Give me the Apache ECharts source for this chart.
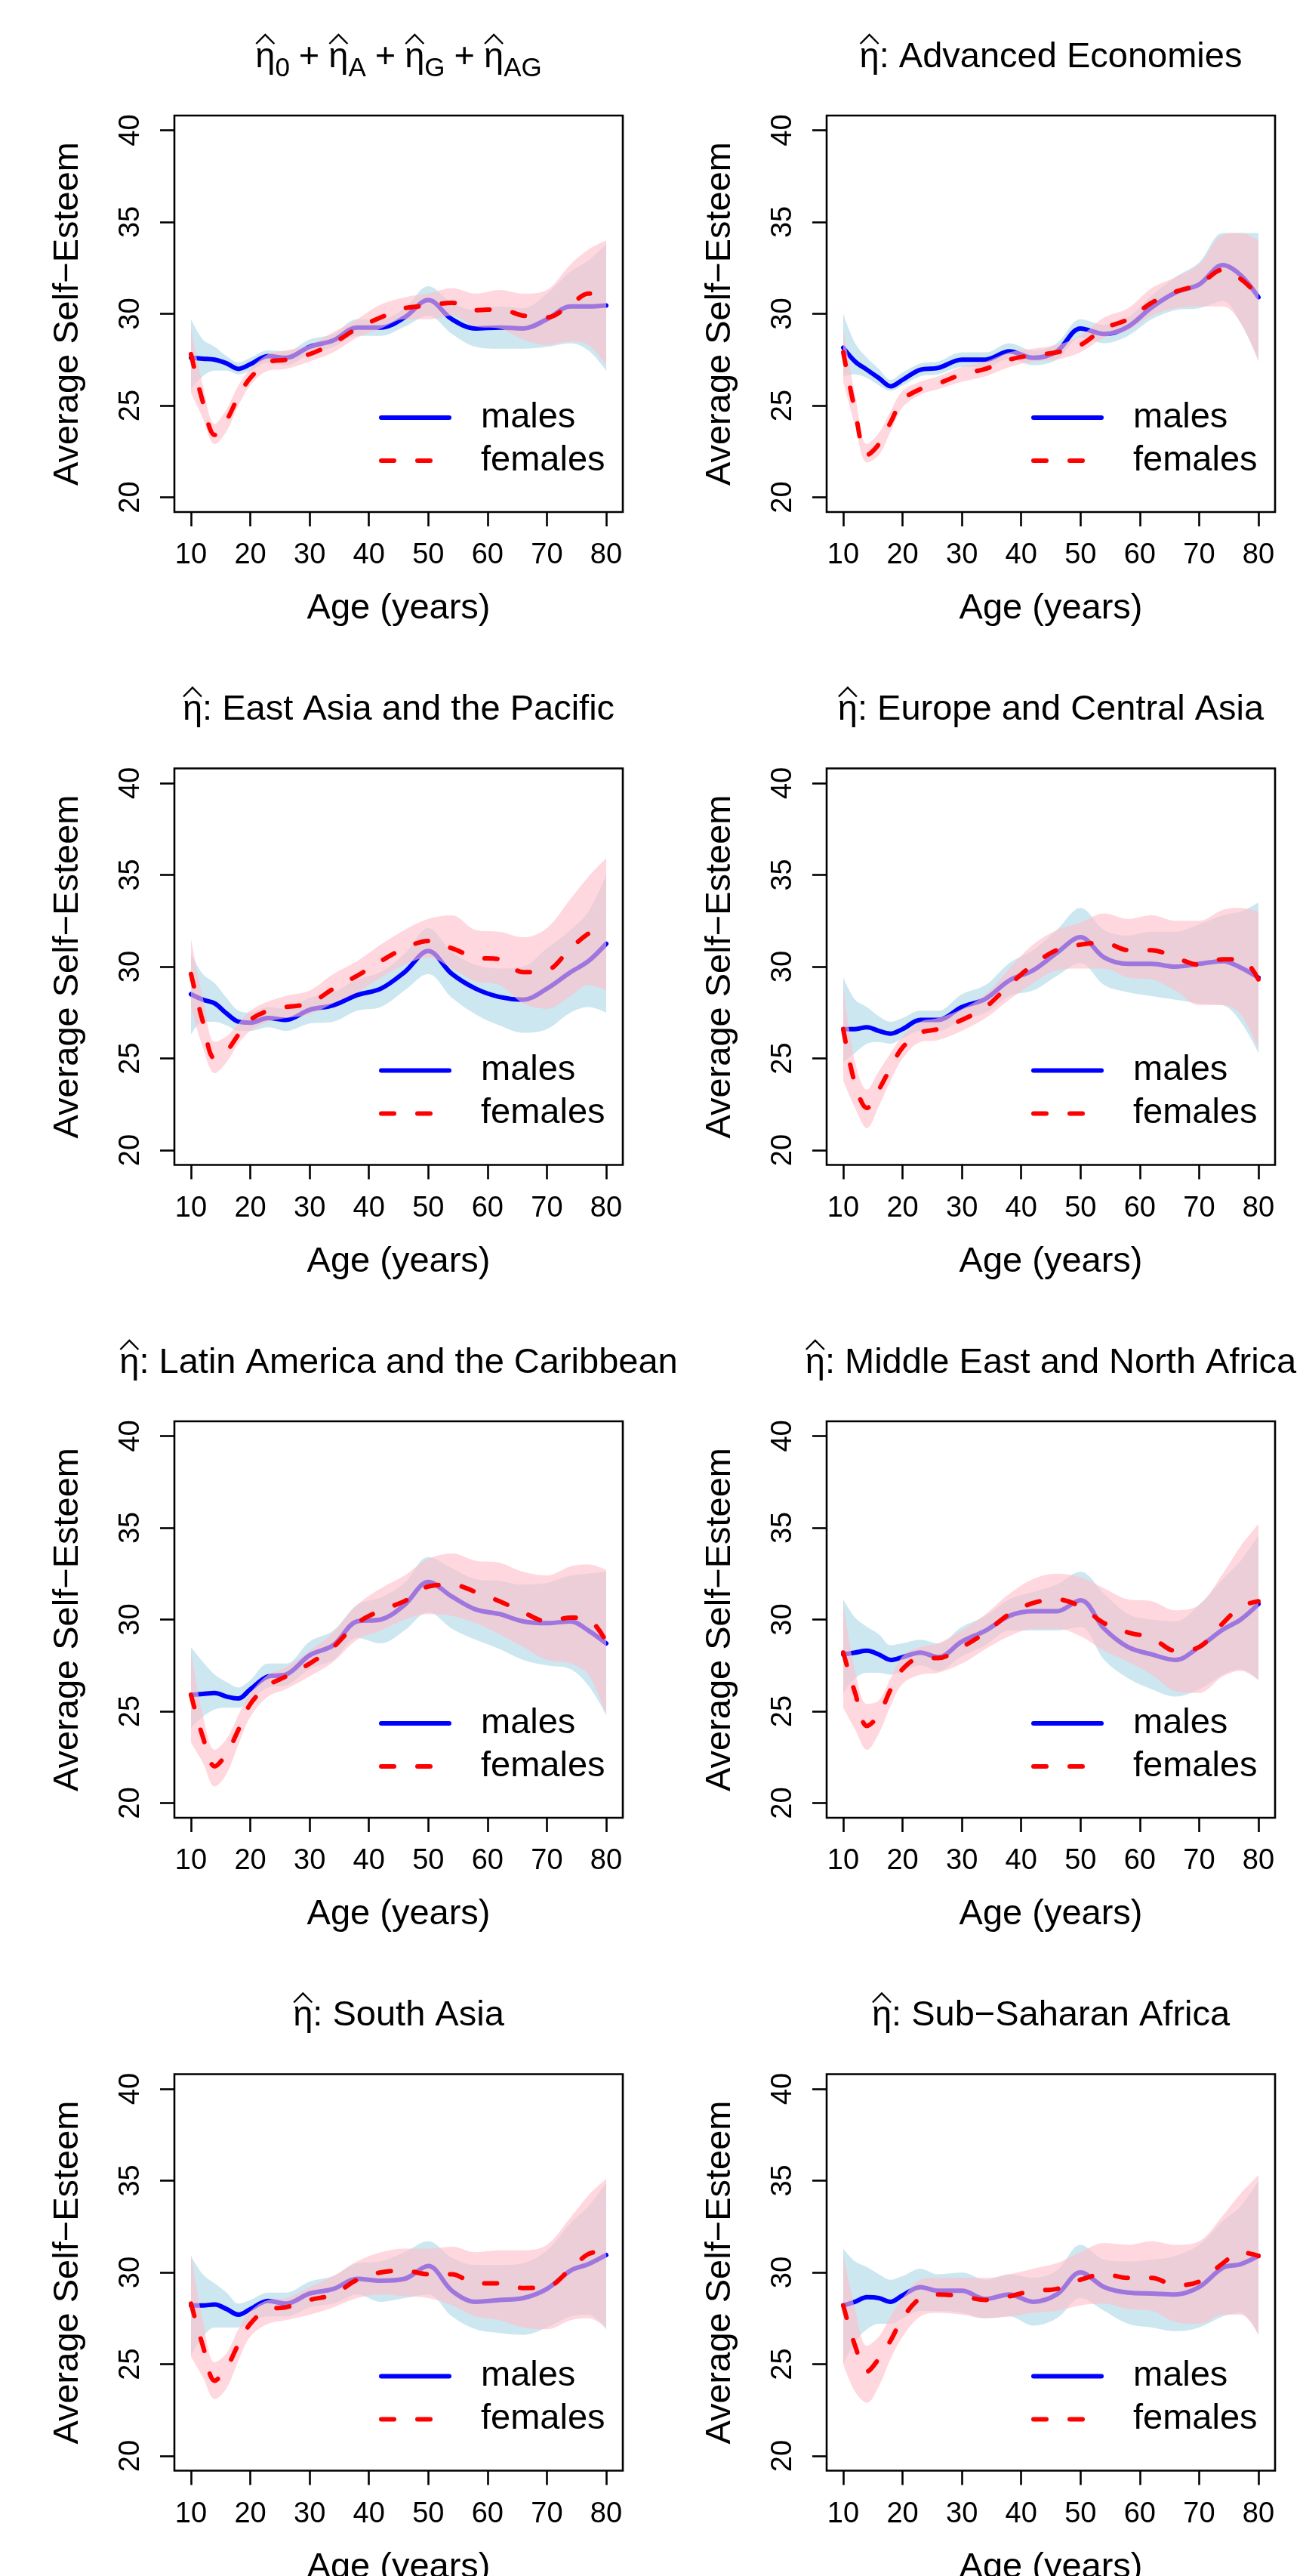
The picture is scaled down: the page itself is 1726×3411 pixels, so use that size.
<!DOCTYPE html>
<html><head><meta charset="utf-8">
<script src="https://cdn.jsdelivr.net/npm/echarts@6/dist/echarts.min.js"></script>
<style>html,body{margin:0;padding:0;background:#fff}#c{width:1726px;height:3411px}</style>
</head><body><div id="c"></div>
<script>
// ---------------- data ----------------
const ages = [10,12,14,16,18,20,23,26,30,34,38,42,46,50,54,58,62,66,70,74,77,80];
const xTicks = [10,20,30,40,50,60,70,80];
const yTicks = [20,25,30,35,40];
const regionNames = ['Advanced Economies','East Asia and the Pacific','Europe and Central Asia','Latin America and the Caribbean','Middle East and North Africa','South Asia','Sub\u2212Saharan Africa'];
const seriesNames = ['males','females'];

// Panel 1: eta0 + etaA + etaG + etaAG
const allMaleMean = [27.6,27.55,27.5,27.3,27.0,27.25,27.7,27.6,28.2,28.55,29.25,29.25,29.8,30.75,29.7,29.2,29.25,29.2,29.7,30.4,30.4,30.45];
const allMaleLo   = [25.9,26.6,26.9,26.9,26.7,26.9,27.35,27.2,27.8,28.2,28.8,28.8,29.3,29.9,28.9,28.2,28.1,28.1,28.2,28.4,28.0,26.9];
const allMaleHi   = [29.7,28.6,28.2,27.7,27.35,27.6,28.0,27.95,28.6,28.9,29.7,29.7,30.3,31.5,30.6,30.2,30.4,30.3,31.1,32.3,32.9,33.8];
const allFemMean  = [27.8,25.2,23.4,24.2,25.5,26.5,27.35,27.5,27.8,28.4,29.2,29.8,30.3,30.45,30.6,30.2,30.25,29.9,29.8,30.5,31.1,30.9];
const allFemLo    = [25.7,24.3,22.9,23.6,25.0,26.1,26.9,27.0,27.4,27.9,28.7,29.2,29.7,29.7,29.9,29.3,29.2,28.6,28.3,28.5,28.3,27.2];
const allFemHi    = [29.2,26.1,24.0,24.8,26.1,27.0,27.8,28.0,28.3,29.0,29.7,30.5,30.9,31.1,31.4,31.1,31.3,31.1,31.3,32.7,33.5,34.0];

// Panel 2: Advanced Economies
const advMaleMean = [28.15,27.4,26.95,26.5,26.05,26.4,26.95,27.05,27.5,27.5,27.95,27.6,27.95,29.2,28.9,29.3,30.35,31.15,31.6,32.65,32.1,30.9];
const advMaleLo   = [26.6,26.7,26.5,26.1,25.8,26.1,26.6,26.7,27.1,27.1,27.55,27.2,27.5,28.7,28.4,28.8,29.7,30.2,30.3,30.7,29.5,27.5];
const advMaleHi   = [30.0,28.4,27.6,27.0,26.4,26.8,27.3,27.4,27.9,27.9,28.4,28.0,28.4,29.7,29.4,29.8,31.0,32.0,32.8,34.4,34.4,34.4];
const advFemMean  = [27.9,24.7,22.3,22.9,24.1,25.3,25.9,26.2,26.7,27.0,27.5,27.75,27.9,28.3,29.2,29.7,30.6,31.2,31.6,32.4,31.9,31.0];
const advFemLo    = [26.3,23.9,21.9,22.3,23.6,24.9,25.6,25.9,26.3,26.6,27.1,27.4,27.5,27.9,28.7,29.1,29.9,30.3,30.4,30.4,29.5,27.4];
const advFemHi    = [29.2,25.6,22.9,23.5,24.7,25.8,26.3,26.6,27.1,27.4,27.9,28.1,28.3,28.8,29.8,30.3,31.4,32.0,32.7,34.3,34.4,34.0];

// Panel 3: East Asia and the Pacific
const eapMaleMean = [28.5,28.2,28.0,27.45,27.0,26.95,27.2,27.1,27.65,27.9,28.45,28.8,29.7,30.85,29.6,28.8,28.35,28.2,28.8,29.7,30.3,31.25];
const eapMaleLo   = [26.3,27.0,27.0,26.8,26.5,26.5,26.7,26.5,26.9,27.0,27.6,27.8,28.7,29.6,28.3,27.4,26.8,26.4,26.6,27.5,27.8,27.5];
const eapMaleHi   = [30.7,29.6,29.1,28.3,27.6,27.5,27.8,27.7,28.3,28.6,29.3,29.7,30.7,32.1,30.8,30.1,29.9,30.0,31.0,32.0,33.0,35.0];
const eapFemMean  = [29.6,27.0,25.0,25.4,26.3,27.1,27.6,27.8,28.0,28.8,29.5,30.3,31.0,31.4,31.0,30.5,30.4,29.7,29.8,31.0,31.8,32.3];
const eapFemLo    = [27.8,25.6,24.2,24.8,25.8,26.5,27.0,27.2,27.4,28.0,28.6,29.4,30.1,30.5,29.9,29.2,29.0,28.0,27.7,28.4,29.0,28.7];
const eapFemHi    = [31.5,28.3,25.9,26.2,26.9,27.6,28.1,28.4,28.7,29.6,30.3,31.2,32.0,32.6,32.8,32.0,31.9,31.6,32.1,33.7,34.9,35.9];

// Panel 4: Europe and Central Asia
const ecaMaleMean = [26.6,26.6,26.7,26.5,26.35,26.6,27.1,27.1,27.8,28.25,29.25,29.8,30.75,31.6,30.5,30.15,30.15,30.0,30.15,30.3,29.95,29.4];
const ecaMaleLo   = [24.8,25.3,25.8,25.9,25.8,26.1,26.5,26.5,27.1,27.5,28.4,28.7,29.5,30.2,29.0,28.6,28.4,28.2,28.0,27.9,27.0,25.3];
const ecaMaleHi   = [29.4,28.2,27.8,27.3,27.0,27.2,27.6,27.6,28.5,29.0,30.2,30.9,32.0,33.2,32.0,31.7,31.9,31.9,32.3,32.8,33.0,33.5];
const ecaFemMean  = [26.6,23.6,22.3,23.3,24.5,25.6,26.4,26.6,27.1,27.8,29.0,30.1,30.9,31.2,31.3,30.9,30.9,30.5,30.1,30.4,30.4,29.3];
const ecaFemLo    = [23.8,22.3,21.2,22.4,23.8,25.0,25.9,26.0,26.5,27.2,28.2,29.1,29.8,29.9,29.9,29.4,29.3,28.7,27.9,27.9,27.4,25.5];
const ecaFemHi    = [29.0,24.8,23.3,24.3,25.3,26.2,27.0,27.2,27.7,28.5,29.9,31.2,32.0,32.4,32.9,32.6,32.8,32.5,32.5,33.1,33.2,33.0];

// Panel 5: Latin America and the Caribbean
const lacMaleMean = [25.9,25.95,26.0,25.8,25.7,26.2,26.9,27.0,28.05,28.6,29.9,30.0,30.8,32.05,31.25,30.55,30.3,29.9,29.8,29.9,29.4,28.7];
const lacMaleLo   = [24.1,24.7,25.1,25.2,25.2,25.6,26.3,26.4,27.3,27.8,29.0,28.7,29.4,30.4,29.5,28.9,28.4,27.8,27.5,27.3,26.4,24.8];
const lacMaleHi   = [28.5,27.7,27.0,26.6,26.3,26.7,27.6,27.6,28.8,29.4,30.8,31.2,32.0,33.4,32.8,32.2,32.1,31.9,32.0,32.4,32.5,32.6];
const lacFemMean  = [25.9,23.6,22.0,22.7,24.0,25.4,26.4,26.9,27.6,28.5,29.8,30.5,31.0,31.8,31.9,31.5,31.0,30.4,29.9,30.1,30.0,28.8];
const lacFemLo    = [23.3,22.2,20.9,21.6,23.2,24.7,25.8,26.2,26.9,27.7,28.9,29.4,30.0,30.3,30.2,29.8,29.2,28.5,27.8,27.6,27.0,24.8];
const lacFemHi    = [28.3,24.8,22.9,23.5,24.8,26.0,27.0,27.4,28.3,29.3,30.8,31.7,32.4,33.3,33.6,33.2,33.1,32.6,32.4,32.9,33.0,32.7];

// Panel 6: Middle East and North Africa
const menaMaleMean = [28.1,28.2,28.3,28.1,27.8,27.95,28.2,27.95,28.8,29.4,30.2,30.45,30.45,31.05,29.5,28.5,28.1,27.8,28.5,29.45,30.0,30.85];
const menaMaleLo   = [26.0,26.8,27.1,27.1,27.0,27.2,27.5,27.2,28.0,28.6,29.4,29.4,29.4,29.6,27.8,26.8,26.2,25.8,26.2,27.0,27.3,26.7];
const menaMaleHi   = [31.1,30.1,29.6,29.2,28.6,28.7,28.9,28.7,29.6,30.2,31.1,31.5,31.9,32.6,31.4,30.3,30.0,29.9,30.8,32.2,33.2,34.6];
const menaFemMean  = [28.2,26.0,24.2,24.8,26.2,27.3,27.9,27.9,28.5,29.3,30.3,30.9,31.1,30.7,29.8,29.3,29.0,28.3,28.5,29.8,30.7,31.0];
const menaFemLo    = [25.2,24.0,22.9,23.8,25.3,26.5,27.0,27.1,27.6,28.4,29.1,29.5,29.5,29.1,28.3,27.7,27.0,26.1,26.0,26.9,27.2,26.7];
const menaFemHi    = [30.9,27.2,25.4,25.6,26.8,28.0,28.5,28.7,29.4,30.3,31.4,32.2,32.5,32.3,31.7,31.1,31.0,30.5,30.8,32.5,34.0,35.2];

// Panel 7: South Asia
const saMaleMean = [28.2,28.2,28.25,28.0,27.7,28.0,28.45,28.3,28.85,29.1,29.65,29.55,29.65,30.35,29.0,28.4,28.5,28.6,29.1,30.1,30.45,30.95];
const saMaleLo   = [25.5,26.5,27.0,27.0,27.0,27.3,27.6,27.6,28.1,28.3,28.8,28.4,28.6,28.8,27.6,26.9,26.7,26.6,27.0,27.6,27.7,26.9];
const saMaleHi   = [30.9,29.9,29.4,28.9,28.3,28.5,28.9,28.9,29.5,29.8,30.5,30.6,31.1,31.7,30.8,30.4,30.4,30.5,31.2,32.7,33.6,34.9];
const saFemMean  = [28.3,26.0,24.1,24.8,26.1,27.2,28.0,28.1,28.5,28.8,29.6,30.0,30.1,29.9,29.9,29.4,29.4,29.15,29.2,30.2,31.0,31.2];
const saFemLo    = [25.4,24.3,23.1,23.7,25.2,26.5,27.2,27.4,27.7,28.1,28.6,28.8,28.7,28.6,28.2,27.6,27.4,27.0,26.9,27.4,27.5,27.0];
const saFemHi    = [31.0,27.4,25.1,25.6,26.9,27.9,28.5,28.6,29.2,29.8,30.6,31.1,31.3,31.3,31.4,31.1,31.2,31.2,31.5,33.0,34.2,35.1];

// Panel 8: Sub-Saharan Africa
const ssaMaleMean = [28.2,28.4,28.65,28.6,28.4,28.75,29.2,29.0,29.0,28.55,28.8,28.4,28.8,30.0,29.2,28.9,28.85,28.8,29.2,30.25,30.45,30.9];
const ssaMaleLo   = [25.0,26.2,26.9,27.2,27.2,27.5,27.9,27.9,27.8,27.5,27.6,27.1,27.5,28.6,27.9,27.2,27.0,26.8,27.0,27.6,27.8,26.6];
const ssaMaleHi   = [31.3,30.6,30.3,29.9,29.6,29.8,30.2,29.9,30.0,29.6,29.9,29.7,30.1,31.5,30.7,30.6,30.7,30.9,31.5,32.8,33.6,35.0];
const ssaFemMean  = [28.2,26.0,24.6,25.3,26.3,27.5,28.6,28.8,28.7,28.5,28.7,29.0,29.1,29.6,29.9,29.7,29.7,29.3,29.5,30.5,31.1,30.9];
const ssaFemLo    = [25.0,23.5,22.9,23.8,25.3,26.5,27.6,27.8,27.7,27.5,27.6,27.8,27.9,28.2,28.3,28.0,27.9,27.3,27.2,27.7,27.7,26.6];
const ssaFemHi    = [31.0,28.0,26.0,26.5,27.6,28.6,29.6,29.7,29.7,29.7,29.9,30.2,30.5,31.1,31.6,31.5,31.7,31.5,31.7,33.1,34.3,35.3];

// ---------------- layout / style ----------------
const FONT = '"Liberation Sans", Arial, Helvetica, sans-serif';
const MAIN_FS = 47, SUB_FS = 35, TICK_FS = 38;
const BLUE_BAND = 'rgba(173,216,230,0.62)';
const PINK_BAND = 'rgba(255,190,202,0.62)';

const panels = [
  {title: [{t:'\u03b7',hat:1},{t:'0',sub:1},{gap:12},{t:'+'},{gap:12},{t:'\u03b7',hat:1},{t:'A',sub:1},{gap:12},{t:'+'},{gap:12},{t:'\u03b7',hat:1},{t:'G',sub:1},{gap:12},{t:'+'},{gap:12},{t:'\u03b7',hat:1},{t:'AG',sub:1}],
   m:[allMaleMean,allMaleLo,allMaleHi], f:[allFemMean,allFemLo,allFemHi]},
  {region:0, m:[advMaleMean,advMaleLo,advMaleHi], f:[advFemMean,advFemLo,advFemHi]},
  {region:1, m:[eapMaleMean,eapMaleLo,eapMaleHi], f:[eapFemMean,eapFemLo,eapFemHi]},
  {region:2, m:[ecaMaleMean,ecaMaleLo,ecaMaleHi], f:[ecaFemMean,ecaFemLo,ecaFemHi]},
  {region:3, m:[lacMaleMean,lacMaleLo,lacMaleHi], f:[lacFemMean,lacFemLo,lacFemHi]},
  {region:4, m:[menaMaleMean,menaMaleLo,menaMaleHi], f:[menaFemMean,menaFemLo,menaFemHi]},
  {region:5, m:[saMaleMean,saMaleLo,saMaleHi], f:[saFemMean,saFemLo,saFemHi]},
  {region:6, m:[ssaMaleMean,ssaMaleLo,ssaMaleHi], f:[ssaFemMean,ssaFemLo,ssaFemHi]}
];

const cv = document.createElement('canvas').getContext('2d');
function measure(t, fs){ cv.font = fs + 'px ' + FONT; return cv.measureText(t).width; }

function titleGraphics(pieces, cx, baseline){
  const out = [];
  const ws = pieces.map(p => p.gap ? p.gap : measure(p.t, p.sub ? SUB_FS : MAIN_FS));
  const total = ws.reduce((a,b)=>a+b,0);
  let x = cx - total/2;
  pieces.forEach((p,k) => {
    if (!p.gap) {
      const fs = p.sub ? SUB_FS : MAIN_FS;
      const bl = p.sub ? baseline + 11 : baseline;
      out.push({type:'text', x: x, y: bl - 0.3465*fs, silent:true,
        style:{text:p.t, font: fs+'px '+FONT, fill:'#000', textAlign:'left', textVerticalAlign:'middle', align:'left', verticalAlign:'middle'}});
      if (p.hat) {
        const c = x + ws[k]/2, top = baseline - 46;
        out.push({type:'polyline', silent:true, shape:{points:[[c-12, top+12],[c, top],[c+12, top+12]]},
          style:{stroke:'#000', lineWidth:2.4, fill:'none'}});
      }
    }
    x += ws[k];
  });
  return out;
}

const option = {animation:false, grid:[], xAxis:[], yAxis:[], series:[], legend:[], graphic:[]};
const toXY = arr => ages.map((a,k)=>[a, arr[k]]);
// value first, age second (encode swaps them) so that stacking happens on the y dimension
const toVA = arr => ages.map((a,k)=>[arr[k], a]);
const toBandVA = (lo,hi) => ages.map((a,k)=>[+(hi[k]-lo[k]).toFixed(3), a]);

panels.forEach((p,i) => {
  const col = i % 2, row = Math.floor(i/2);
  const left = 231 + 864*col, top = 153 + 864.5*row, W = 594, H = 525;
  option.grid.push({left, top, width:W, height:H, show:true, borderColor:'#000', borderWidth:2.6,
    backgroundColor:'rgba(0,0,0,0)', containLabel:false, outerBoundsMode:'none'});
  option.xAxis.push({gridIndex:i, type:'value', min:7.2, max:82.8,
    axisLine:{show:false}, splitLine:{show:false},
    axisTick:{show:true, customValues:xTicks, length:19, lineStyle:{color:'#000', width:2.6}},
    axisLabel:{customValues:xTicks, margin:39, fontSize:TICK_FS, color:'#000', fontFamily:FONT},
    name:'Age (years)', nameLocation:'middle', nameGap:105,
    nameTextStyle:{fontSize:MAIN_FS, color:'#000', fontFamily:FONT}});
  option.yAxis.push({gridIndex:i, type:'value', min:19.2, max:40.8,
    axisLine:{show:false}, splitLine:{show:false},
    axisTick:{show:true, customValues:yTicks, length:19, lineStyle:{color:'#000', width:2.6}},
    axisLabel:{customValues:yTicks, rotate:90, margin:38, fontSize:TICK_FS, color:'#000', fontFamily:FONT},
    name:'Average Self\u2212Esteem', nameLocation:'middle', nameGap:117, nameRotate:90,
    nameTextStyle:{fontSize:MAIN_FS, color:'#000', fontFamily:FONT}});

  const common = {xAxisIndex:i, yAxisIndex:i, type:'line', symbol:'none', showSymbol:false, smooth:0.35, silent:true};
  const bandCommon = Object.assign({}, common, {encode:{x:1, y:0}, lineStyle:{opacity:0, width:0}});
  const [mMean,mLo,mHi] = p.m, [fMean,fLo,fHi] = p.f;
  // drawing order: male band, male line, female band (translucent, over the male line), female line
  option.series.push(Object.assign({}, bandCommon, {z:1, name:'mLo'+i, stack:'m'+i, data:toVA(mLo)}));
  option.series.push(Object.assign({}, bandCommon, {z:1, name:'mBand'+i, stack:'m'+i, data:toBandVA(mLo,mHi), areaStyle:{color:BLUE_BAND, opacity:1}}));
  option.series.push(Object.assign({}, common, {z:2, name:seriesNames[0], data:toXY(mMean), color:'#0000ff', lineStyle:{color:'#0000ff', width:6, cap:'round', join:'round'}}));
  option.series.push(Object.assign({}, bandCommon, {z:3, name:'fLo'+i, stack:'f'+i, data:toVA(fLo)}));
  option.series.push(Object.assign({}, bandCommon, {z:3, name:'fBand'+i, stack:'f'+i, data:toBandVA(fLo,fHi), areaStyle:{color:PINK_BAND, opacity:1}}));
  option.series.push(Object.assign({}, common, {z:4, name:seriesNames[1], data:toXY(fMean), color:'#ff0000', lineStyle:{color:'#ff0000', width:6, type:[17,31], cap:'round', join:'round'}}));

  option.legend.push({data:seriesNames, orient:'vertical', left:left+271, top:top+371.5,
    itemWidth:90, itemHeight:14, itemGap:0, padding:0, selectedMode:false,
    itemStyle:{opacity:0}, lineStyle:{width:6},
    textStyle:{fontSize:MAIN_FS, lineHeight:MAIN_FS, color:'#000', fontFamily:FONT, padding:[10,0,0,37]}});

  const pieces = p.title ? p.title : [{t:'\u03b7',hat:1},{t:': '+regionNames[p.region]}];
  option.graphic.push(...titleGraphics(pieces, left + W/2, top - 61));
});

const chart = echarts.init(document.getElementById('c'), null, {renderer:'canvas', width:1726, height:3411});
chart.setOption(option);
</script>
</body></html>
